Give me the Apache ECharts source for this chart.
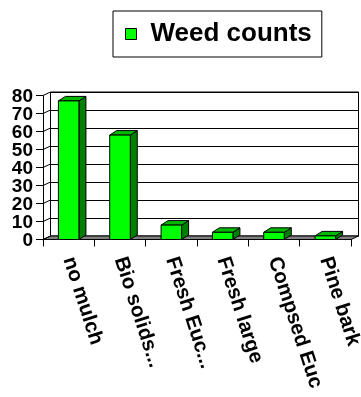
<!DOCTYPE html>
<html>
<head>
<meta charset="utf-8">
<script src="https://cdn.jsdelivr.net/npm/echarts@6/dist/echarts.min.js"></script>
<style>
  html, body { margin: 0; padding: 0; background: #fff; }
  #chart { width: 361px; height: 397px; }
</style>
</head>
<body>
<div id="chart"></div>
<script>
// Mulch treatments and their weed counts
const categories = ['no mulch', 'Bio solids...', 'Fresh Euc...', 'Fresh large', 'Compsed Euc', 'Pine bark'];
const weedCounts = [77, 58, 8, 4, 4, 2];
const valueTicks = [0, 10, 20, 30, 40, 50, 60, 70, 80];
const seriesName = 'Weed counts';

const FONT = '"Liberation Sans", Arial, sans-serif';
// depth of the floor / side wall, and of each column
const WALL_DX = 7.5, WALL_DY = -3.5;
const BAR_DX = 7, BAR_DY = -4.5;

const chart = echarts.init(document.getElementById('chart'), null, { renderer: 'canvas' });

function bandEdges(api) {
  const band = api.size([1, 0])[0];
  const first = api.coord([0, 0]);
  const last = api.coord([categories.length - 1, 0]);
  return { left: first[0] - band / 2, right: last[0] + band / 2, y0: first[1] };
}

const option = {
  animation: false,
  backgroundColor: '#fff',
  legend: {
    data: [seriesName],
    left: 113,
    top: 11,
    orient: 'horizontal',
    icon: 'rect',
    itemWidth: 11,
    itemHeight: 11,
    padding: [10, 10, 10, 12],
    backgroundColor: '#fff',
    borderColor: '#000',
    borderWidth: 1,
    itemStyle: { color: '#00ff00', borderColor: '#000', borderWidth: 1 },
    textStyle: { fontFamily: FONT, fontWeight: 'bold', fontSize: 26, lineHeight: 26, color: '#000', padding: [0, 0, 0, 9] }
  },
  grid: [
    { left: 43, right: 10, top: 95.5, bottom: 157.5, containLabel: false, outerBoundsMode: 'none' },
    { left: 43 + WALL_DX, right: 10 - WALL_DX, top: 95.5 + WALL_DY, bottom: 157.5 - WALL_DY,
      containLabel: false, outerBoundsMode: 'none',
      show: true, backgroundColor: '#fff', borderColor: '#000', borderWidth: 1, z: 0 }
  ],
  xAxis: [
    {
      type: 'category', gridIndex: 0, data: categories, boundaryGap: true,
      axisLine: { show: true, lineStyle: { color: '#000', width: 1 } },
      axisTick: { show: true, length: 7, interval: 0, lineStyle: { color: '#000' } },
      axisLabel: { interval: 0, rotate: -72, margin: 18, color: '#000', fontFamily: FONT, fontWeight: 'bold', fontSize: 20.5, hideOverlap: false },
      z: 5
    },
    { type: 'category', gridIndex: 1, data: categories, show: false }
  ],
  yAxis: [
    {
      type: 'value', gridIndex: 0, min: 0, max: 80, interval: 10,
      axisLine: { show: true, lineStyle: { color: '#000', width: 1 } },
      axisTick: { show: true, length: 7, lineStyle: { color: '#000' } },
      // tick labels are packed tighter than their font height, so they are drawn by the 'value labels' series
      axisLabel: { show: false },
      splitLine: { show: false },
      z: 5
    },
    {
      type: 'value', gridIndex: 1, min: 0, max: 80, interval: 10,
      axisLine: { show: false }, axisTick: { show: false }, axisLabel: { show: false },
      splitLine: { show: true, lineStyle: { color: '#000', width: 1 } }
    }
  ],
  series: [
    {
      // grey floor under the columns
      type: 'custom', name: 'floor', xAxisIndex: 0, yAxisIndex: 0, z: 1, silent: true,
      data: [[0, 0]],
      renderItem: function (params, api) {
        const e = bandEdges(api);
        return {
          type: 'polygon',
          shape: { points: [[e.left, e.y0], [e.right, e.y0], [e.right + WALL_DX, e.y0 + WALL_DY], [e.left + WALL_DX, e.y0 + WALL_DY]] },
          style: { fill: '#808080', stroke: '#000', lineWidth: 1 }
        };
      }
    },
    {
      // side-wall lines joining each value tick to the back wall
      type: 'custom', name: 'wall', xAxisIndex: 0, yAxisIndex: 0, z: 1, silent: true,
      data: valueTicks.map(function (v) { return [0, v]; }),
      renderItem: function (params, api) {
        const band = api.size([1, 0])[0];
        const p = api.coord([0, api.value(1)]);
        const x = p[0] - band / 2;
        return {
          type: 'line',
          shape: { x1: x, y1: p[1], x2: x + WALL_DX, y2: p[1] + WALL_DY },
          style: { stroke: '#000', lineWidth: 1 }
        };
      }
    },
    {
      // value-axis tick labels
      type: 'custom', name: 'value labels', xAxisIndex: 0, yAxisIndex: 0, z: 5, silent: true,
      data: valueTicks.map(function (v) { return [0, v]; }),
      renderItem: function (params, api) {
        const band = api.size([1, 0])[0];
        const v = api.value(1);
        const p = api.coord([0, v]);
        return {
          type: 'text',
          x: p[0] - band / 2 - 10,
          y: p[1] + 1,
          style: { text: String(v), fill: '#000', fontFamily: FONT, fontWeight: 'bold', fontSize: 19,
                   align: 'right', verticalAlign: 'middle' }
        };
      }
    },
    {
      // 3-D columns
      type: 'custom', name: seriesName, xAxisIndex: 0, yAxisIndex: 0, z: 3,
      itemStyle: { color: '#00ff00' },
      data: weedCounts.map(function (v, i) { return [i, v]; }),
      renderItem: function (params, api) {
        const i = api.value(0), v = api.value(1);
        const base = api.coord([i, 0]);
        const top = api.coord([i, v]);
        const w = api.size([1, 0])[0] * 0.4;
        const x0 = base[0] - w / 2, x1 = x0 + w;
        const yT = top[1], yB = base[1];
        const stroke = { stroke: '#000', lineWidth: 1 };
        return {
          type: 'group',
          children: [
            { type: 'polygon', shape: { points: [[x1, yT], [x1 + BAR_DX, yT + BAR_DY], [x1 + BAR_DX, yB + BAR_DY], [x1, yB]] },
              style: Object.assign({ fill: '#008000' }, stroke) },
            { type: 'polygon', shape: { points: [[x0, yT], [x1, yT], [x1 + BAR_DX, yT + BAR_DY], [x0 + BAR_DX, yT + BAR_DY]] },
              style: Object.assign({ fill: '#00b800' }, stroke) },
            { type: 'rect', shape: { x: x0, y: yT, width: w, height: yB - yT },
              style: Object.assign({ fill: '#00ff00' }, stroke) }
          ]
        };
      }
    }
  ]
};

chart.setOption(option);
</script>
</body>
</html>
